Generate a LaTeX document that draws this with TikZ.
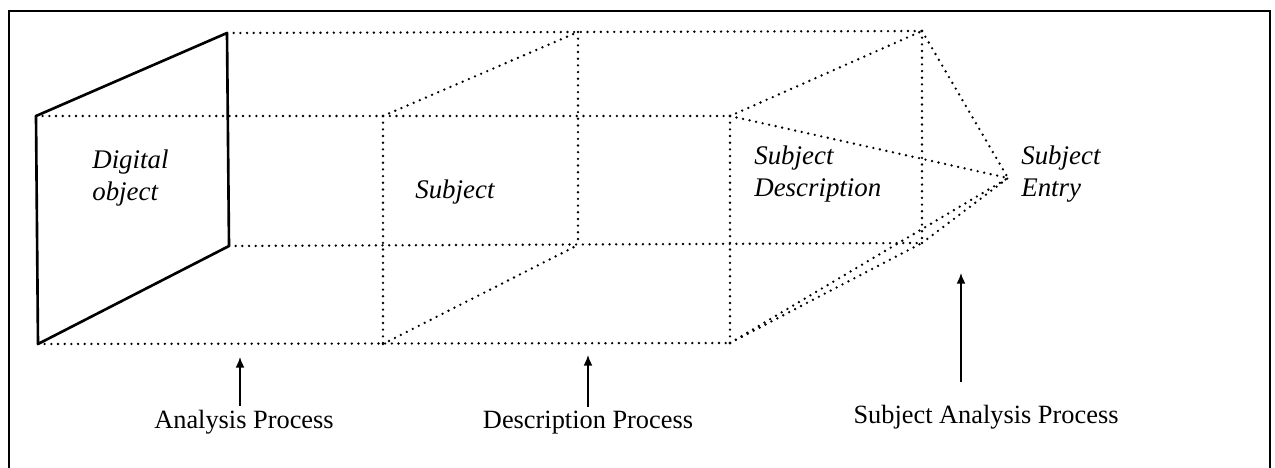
\documentclass[tikz,border=0pt]{standalone}
\usepackage{fontspec}
\setmainfont{Liberation Serif}
\usetikzlibrary{arrows.meta}
\tikzstyle{wire} = [line width=1.5pt, dash pattern=on 0pt off 3.8pt, line cap=round]
\tikzstyle{plate} = [line width=1.5pt, line join=round]
\tikzstyle{term} = [font=\fontsize{15.3}{18.2}\selectfont\itshape, align=left, anchor=west, inner sep=0pt]
\tikzstyle{caption} = [font=\fontsize{15}{18}\selectfont, anchor=base, inner sep=2pt]
\tikzstyle{arrow} = [line width=0.8pt, -{Latex[length=6pt, width=5pt]}]

\begin{document}
\begin{tikzpicture}[x=0.02cm, y=-0.02cm]
\useasboundingbox (0,0) rectangle (1275,467);
\draw[line width=1.3pt] (9,11) rectangle (1270,475);

\coordinate (objTL) at (36,116);
\coordinate (objTR) at (227,33);
\coordinate (objBR) at (229,246);
\coordinate (objBL) at (38,344);
\coordinate (subFT) at (383,116);
\coordinate (subFB) at (383,344);
\coordinate (subBT) at (578,32);
\coordinate (subBB) at (578,245);
\coordinate (descFT) at (730,116);
\coordinate (descFB) at (730,343);
\coordinate (descBT) at (922,31);
\coordinate (descBB) at (922,243);
\coordinate (entry) at (1008,178);

\draw [wire] (objTL) -- (descFT);
\draw [wire] (objBL) -- (descFB);
\draw [wire] (objTR) -- (descBT);
\draw [wire] (objBR) -- (descBB);
\draw [wire] (subFT) -- (subFB);
\draw [wire] (subBT) -- (subBB);
\draw [wire] (descFT) -- (descFB);
\draw [wire] (descBT) -- (descBB);
\draw [wire] (subFT) -- (subBT);
\draw [wire] (subFB) -- (subBB);
\draw [wire] (descFT) -- (descBT);
\draw [wire] (descFB) -- (descBB);
\draw [wire] (descBT) -- (entry);
\draw [wire] (descFT) -- (entry);
\draw [wire] (descFB) -- (entry);
\draw [wire] (descBB) -- (entry);

\draw [plate] (objTL) -- (objTR) -- (objBR) -- (objBL) -- cycle;

\node (digitalObject) [term] at (92,178) {Digital\\object};
\node (subject) [term] at (415,192) {Subject};
\node (subjectDescription) [term] at (754,174) {Subject\\Description};
\node (subjectEntry) [term] at (1021,174) {Subject\\Entry};

\node (analysis) [caption] at (244,428) {Analysis Process};
\node (description) [caption] at (588,428) {Description Process};
\node (subjectAnalysis) [caption] at (986,423) {Subject Analysis Process};

\coordinate (analysisTip) at (240,357);
\coordinate (descriptionTip) at (588,355);
\coordinate (subjectAnalysisTip) at (961,273);

\draw [arrow] (analysisTip |- analysis.north) -- (analysisTip);
\draw [arrow] (description.north) -- (descriptionTip);
\draw [arrow, shorten <=0.38cm] (subjectAnalysisTip |- subjectAnalysis.north) -- (subjectAnalysisTip);

\end{tikzpicture}
\end{document}
